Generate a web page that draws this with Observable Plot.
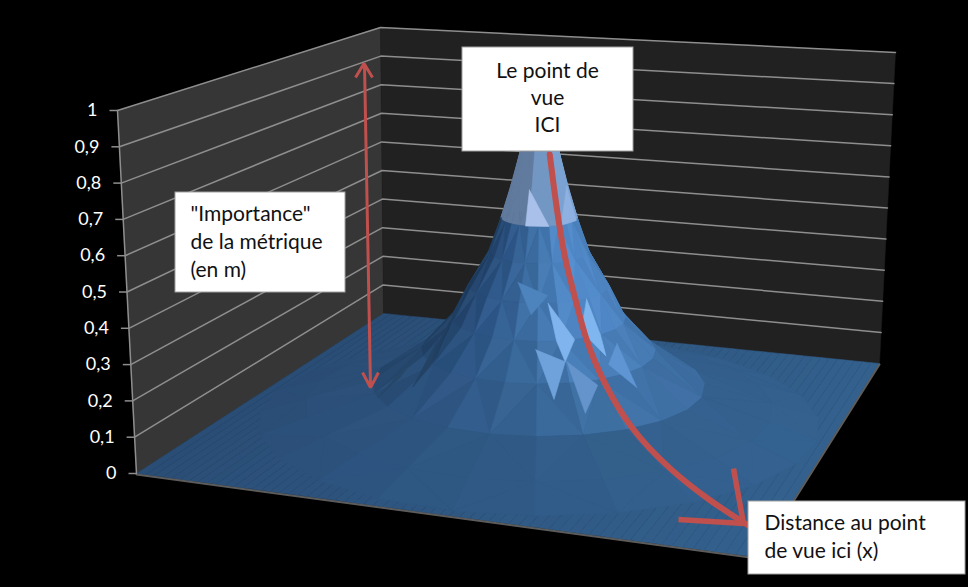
<!DOCTYPE html>
<html lang="fr">
<head>
<meta charset="utf-8">
<script src="https://cdn.jsdelivr.net/npm/d3@7"></script>
<script src="https://cdn.jsdelivr.net/npm/@observablehq/plot@0.6"></script>
<style>html,body{margin:0;padding:0;background:#000}svg{display:block}</style>
</head>
<body>
<div id="chart"></div>
<script>
// ---- values ----
const zTicks = [0, 0.1, 0.2, 0.3, 0.4, 0.5, 0.6, 0.7, 0.8, 0.9, 1];
const zTickLabels = ["0", "0,1", "0,2", "0,3", "0,4", "0,5", "0,6", "0,7", "0,8", "0,9", "1"];
// surface profile: distance to the peak (floor widths) and height
const ringRadius = [0, 0.015, 0.032, 0.047, 0.064, 0.085, 0.119, 0.148, 0.2, 0.285, 0.4, 0.48];
const ringHeight = [1, 0.89, 0.785, 0.685, 0.585, 0.485, 0.385, 0.29, 0.195, 0.095, 0.04, 0];
const spokeAngles = d3.range(-180, 180, 15);
// red curve lying on the surface
const curveRadius = [0.032, 0.047, 0.064, 0.085, 0.119, 0.148, 0.2, 0.285, 0.4, 0.5, 0.6, 0.67];
const curveHeight = [0.785, 0.685, 0.585, 0.485, 0.385, 0.29, 0.195, 0.095, 0.04, 0.015, 0.003, 0];
// bright / dark facets on the surface: [ring, angle] vertices and their tone
const glintVertices = [
  [[3, -20], [4, 15], [4, -20]],
  [[3, 75], [4, 35], [4, 75]],
  [[6, 8], [7, 24], [7.5, 15], [7, 12]],
  [[6, 42], [6.8, 30], [7.5, 40], [7, 44]],
  [[7.2, -1], [7.5, 15], [8.3, 7]],
  [[7.3, 53], [8.3, 46], [7.7, 39]],
  [[5.5, -19], [5.8, 8], [6.3, -5]],
  [[7.5, 16], [8.1, 28], [8.6, 18]],
  [[7, -85], [8.3, -60], [7.8, -62]],
  [[8, -88], [9, -70], [8.5, -72]],
  [[7.5, -75], [8.5, -58], [8, -62]],
  [[6.5, -88], [7.6, -66], [7.2, -72]]
];
const glintTones = ["#a9c1ea", "#8fb1e2", "#80b4ef", "#80b6ef", "#6fa2da", "#5e95d2", "#4d84bd", "#6494cb",
  "#213f60", "#264767", "#234264", "#1f3c5c"];
// notes
const centredNotes = [
  {t: "Le point de", x: 547, y: 71},
  {t: "vue", x: 547, y: 98},
  {t: "ICI", x: 547, y: 125}
];
const leftNotes = [
  {t: "\"Importance\"", x: 190, y: 214},
  {t: "de la métrique", x: 190, y: 242},
  {t: "(en m)", x: 190, y: 270},
  {t: "Distance au point", x: 764, y: 523},
  {t: "de vue ici (x)", x: 764, y: 551}
];
const noteBoxLeft = [462, 175, 748];
const noteBoxRight = [633, 345, 965];
const noteBoxTop = [47, 192, 501];
const noteBoxBottom = [151, 292, 574];
const arrowPaths = [
  {id: "shaft", w: 3, xs: [364, 370], ys: [64, 386]},
  {id: "headTop", w: 3, xs: [355, 363.5, 372], ys: [77, 63, 77]},
  {id: "headBottom", w: 3, xs: [362, 370, 378], ys: [372, 387, 372]},
  {id: "headCurve", w: 5.5, xs: [733, 743, 678], ys: [468, 523, 519]}
];

// ---- chart frame: corners of the floor and of the ceiling ----
const floorQuad = [[136, 473], [757, 557], [879, 363], [383, 313]];
const topQuad = [[117, 110], [777, 155], [895, 52], [380, 27]];

function squareToQuad(q) {
  const [[x0, y0], [x1, y1], [x2, y2], [x3, y3]] = q;
  const dx1 = x1 - x2, dx2 = x3 - x2, sx = x0 - x1 + x2 - x3;
  const dy1 = y1 - y2, dy2 = y3 - y2, sy = y0 - y1 + y2 - y3;
  const d = dx1 * dy2 - dx2 * dy1;
  const g = (sx * dy2 - dx2 * sy) / d, h = (dx1 * sy - sx * dy1) / d;
  const a = x1 - x0 + g * x1, b = x3 - x0 + h * x3, c = x0;
  const e = y1 - y0 + g * y1, f = y3 - y0 + h * y3, i = y0;
  return (u, v) => {
    const w = g * u + h * v + 1;
    return [(a * u + b * v + c) / w, (e * u + f * v + i) / w];
  };
}
const floorMap = squareToQuad(floorQuad), topMap = squareToQuad(topQuad);
function project(u, v, z) {
  const p = floorMap(u, v), q = topMap(u, v);
  return [p[0] + (q[0] - p[0]) * z, p[1] + (q[1] - p[1]) * z];
}
// circle around the peak on the floor; angle 0 faces the viewer
function floorUV(r, deg) {
  const s = Math.sin(deg * Math.PI / 180), c = Math.cos(deg * Math.PI / 180);
  return [0.5 + r * (s * 0.949 + c * 0.314), 0.5 + r * (s * 0.314 - c * 0.949)];
}
function ringAt(k) {
  const i = Math.min(Math.floor(k), ringRadius.length - 2), t = k - i;
  return [ringRadius[i] + (ringRadius[i + 1] - ringRadius[i]) * t,
          ringHeight[i] + (ringHeight[i + 1] - ringHeight[i]) * t];
}
const surf = (k, deg) => {
  const [r, z] = ringAt(k);
  const [u, v] = floorUV(r, deg);
  return project(u, v, z);
};

// ---- colours ----
const mix = (a, b, t) => d3.interpolateRgb(a, b)(Math.max(0, Math.min(1, t)));
const floorColor = (u) => mix("#2a4d75", "#33608d", u);
const sideStops = d3.scaleLinear()
  .domain([-180, -90, -45, 0, 30, 60, 90, 180])
  .range(["#1a3555", "#1a3555", "#2a5080", "#3e72a8", "#558fd0", "#4f88c8", "#4a80bb", "#4a80bb"])
  .interpolate(d3.interpolateRgb).clamp(true);

// ---- polygons ----
const polys = [];
let pid = 0;
function addPoly(pts, color) {
  const id = pid++;
  [...pts, pts[0]].forEach(p => polys.push({id, x: p[0], y: p[1], c: color}));
}

// walls
addPoly([project(0, 0, 0), project(0, 1, 0), project(0, 1, 1), project(0, 0, 1)], "#363636");
addPoly([project(0, 1, 0), project(1, 1, 0), project(1, 1, 1), project(0, 1, 1)], "#212121");

// floor strips, shaded left to right
const floorSteps = d3.range(0, 64);
for (const i of floorSteps) {
  const a = i / 64, d = 1 / 64;
  addPoly([project(a, 0, 0), project(a + d, 0, 0), project(a + d, 1, 0), project(a, 1, 0)],
    floorColor(a + d / 2));
}

// surface facets
const facets = [];
const hz = 0.56;
const bandWeight = [1.25, 1.25, 1.25, 1.25, 1.25, 1.25, 1.25, 1.1, 0.85, 0.32, 0.25];
for (let k = 0; k < ringRadius.length - 1; k++) {
  const dz = (ringHeight[k] - ringHeight[k + 1]) * hz, dr = ringRadius[k + 1] - ringRadius[k];
  const steep = dz / Math.hypot(dz, dr);
  spokeAngles.forEach((a0, i) => {
    const a1 = a0 + 15, mid = a0 + 7.5;
    const p00 = surf(k, a0), p01 = surf(k, a1), p10 = surf(k + 1, a0), p11 = surf(k + 1, a1);
    const [u, v] = floorUV((ringRadius[k] + ringRadius[k + 1]) / 2, mid);
    const base = floorColor(u);
    const depth = project(u, v, 0)[1];
    // the three wide columns near the top of the peak
    const upper = k <= 3;
    const ang = upper ? (mid < -18 ? -60 : mid < 28 ? 5 : 60) : mid;
    let side = sideStops(ang);
    if (upper) side = mix(side, "#bcc8e0", 0.4);
    const w = Math.min(1, steep * bandWeight[k]);
    const c = mix(base, side, w);
    const alt = (i + k) % 2 === 0;
    const c1 = upper ? c : mix(c, alt ? "#16304e" : "#7fb0e6", 0.08 * w);
    const c2 = upper ? c : mix(c, alt ? "#7fb0e6" : "#16304e", 0.04 * w);
    const tris = alt ? [[p00, p01, p11], [p00, p11, p10]] : [[p00, p01, p10], [p01, p11, p10]];
    facets.push({depth, pts: tris[0], c: c1});
    facets.push({depth, pts: tris[1], c: c2});
  });
}
facets.sort((a, b) => a.depth - b.depth).forEach(f => addPoly(f.pts, f.c));
glintVertices.forEach((g, i) => addPoly(g.map(([k, a]) => surf(k, a)), glintTones[i]));

// ---- lines ----
const grid = [];
zTicks.forEach((z, i) => {
  if (z === 0) return;
  const a = project(0, 0, z), b = project(0, 1, z), c = project(1, 1, z);
  [a, b, c].forEach(p => grid.push({id: i, x: p[0], y: p[1]}));
});
const axisTicks = zTicks.map((z, i) => {
  const p = project(0, 0, z);
  return {x: p[0], y: p[1], label: zTickLabels[i]};
});
const axisLine = [project(0, 0, 0), project(0, 0, 1)].map(p => ({x: p[0], y: p[1]}));
const floorEdge = [project(0, 0, 0), project(1, 0, 0), project(1, 1, 0)].map(p => ({x: p[0], y: p[1] + 1}));

const curveAngle = 31.5;
const curve = curveRadius.map((r, i) => {
  const [u, v] = floorUV(r, curveAngle);
  const p = project(u, v, curveHeight[i]);
  return {x: p[0], y: p[1]};
});
const arrows = arrowPaths.flatMap(a => a.xs.map((x, i) => ({id: a.id, w: a.w, x, y: a.ys[i]})));
const boxes = noteBoxLeft.map((l, i) => ({x1: l, x2: noteBoxRight[i], y1: noteBoxTop[i], y2: noteBoxBottom[i]}));

const red = "#c0504d";
const chart = Plot.plot({
  width: 968, height: 587,
  marginTop: 0, marginRight: 0, marginBottom: 0, marginLeft: 0,
  x: {domain: [0, 968], range: [0, 968], axis: null},
  y: {domain: [0, 587], range: [0, 587], axis: null},
  color: {type: "identity"},
  style: {background: "#000", fontFamily: "Lato, 'Open Sans', sans-serif"},
  marks: [
    Plot.line(polys.slice(0, 10), {x: "x", y: "y", z: "id", fill: "c", stroke: "c", strokeWidth: 0.5}),
    Plot.line(grid, {x: "x", y: "y", z: "id", stroke: "#8e8e8e", strokeWidth: 1.5}),
    Plot.line(polys.slice(10), {x: "x", y: "y", z: "id", fill: "c", stroke: "c", strokeWidth: 0.6}),
    Plot.line(floorEdge, {x: "x", y: "y", stroke: "#5c5c5c", strokeWidth: 2}),
    Plot.line(axisLine, {x: "x", y: "y", stroke: "#8e8e8e", strokeWidth: 1.5}),
    Plot.link(axisTicks, {x1: d => d.x - 8, x2: "x", y1: "y", y2: "y", stroke: "#8e8e8e", strokeWidth: 1.5}),
    Plot.text(axisTicks, {x: d => d.x - 20, y: "y", text: "label", textAnchor: "end", fill: "#fff", fontSize: 18}),
    Plot.line(curve, {x: "x", y: "y", stroke: red, strokeWidth: 6, curve: "basis"}),
    Plot.line(arrows, {x: "x", y: "y", z: "id", stroke: red, strokeWidth: "w", strokeLinejoin: "miter", strokeLinecap: "butt"}),
    Plot.rect(boxes, {x1: "x1", x2: "x2", y1: "y1", y2: "y2", fill: "#fff", stroke: "#a0a0a0", strokeWidth: 1}),
    Plot.text(centredNotes, {x: "x", y: "y", text: "t", textAnchor: "middle", fill: "#111", fontSize: 21}),
    Plot.text(leftNotes, {x: "x", y: "y", text: "t", textAnchor: "start", fill: "#111", fontSize: 21})
  ]
});
document.getElementById("chart").appendChild(chart);
</script>
</body>
</html>
